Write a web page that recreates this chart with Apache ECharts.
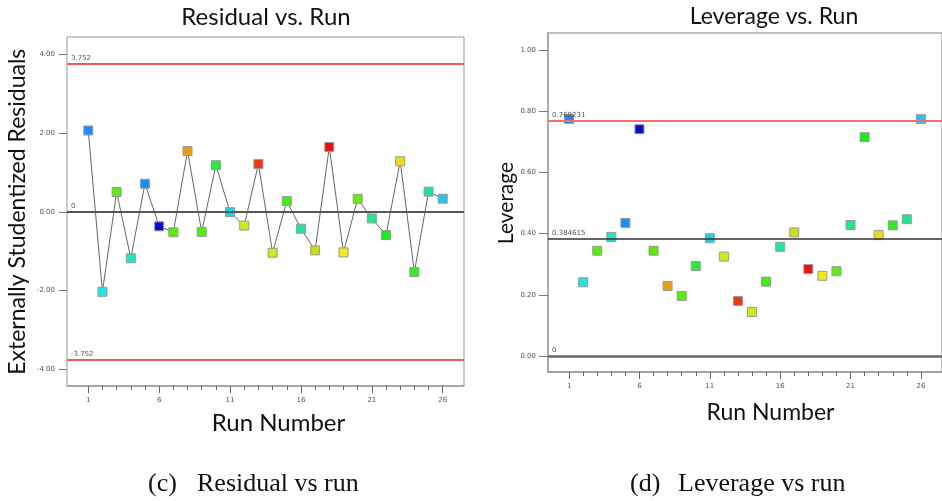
<!DOCTYPE html>
<html><head><meta charset="utf-8">
<script src="https://cdn.jsdelivr.net/npm/echarts@6/dist/echarts.min.js"></script>
<style>html,body{margin:0;padding:0;background:#fff}#c{width:942px;height:501px}</style>
</head><body><div id="c"></div>
<script>
// ---- data ----
const runs = [1,2,3,4,5,6,7,8,9,10,11,12,13,14,15,16,17,18,19,20,21,22,23,24,25,26];
const residuals = [2.06,-2.03,0.50,-1.18,0.71,-0.37,-0.52,1.54,-0.51,1.18,-0.01,-0.35,1.21,-1.04,0.27,-0.43,-0.98,1.64,-1.03,0.33,-0.17,-0.59,1.28,-1.53,0.51,0.33];
const leverage = [0.775,0.241,0.344,0.389,0.435,0.741,0.344,0.229,0.196,0.294,0.385,0.325,0.180,0.144,0.243,0.357,0.404,0.284,0.262,0.277,0.428,0.715,0.395,0.427,0.447,0.774];
const runColors = ['#1a8cff','#1ee6e6','#5aee10','#1ee6c8','#1a8cff','#0a0ad8','#55ee00','#e8a010','#55ee00','#28ec3c','#10d8ec','#ccee10','#ee3a10','#ccee10','#40ee10','#1ee6a0','#c8e010','#ee1010','#eeee10','#60ee10','#1ee690','#18ee18','#eedc10','#30ee20','#1ee690','#1ec8ee'];
const residualLimits = [3.752, 0, -3.752];
const leverageLimits = [0.769231, 0.384615, 0];
const xTickLabels = ['1','6','11','16','21','26'];
const categories = [''].concat(runs.map(String), [' ']);

// ---- helpers ----
const isRun = (i, v) => v.trim() !== '' && runs.indexOf(Number(v)) >= 0;
const isLabeled = (i, v) => xTickLabels.indexOf(v) >= 0;
const smallLabel = {fontSize: 7, color: '#555', fontFamily: 'DejaVu Sans'};
const nameStyle = {fontFamily: 'Lato', fontSize: 21, color: '#111'};

function frameAxes(gridIndex, nameGap, padLeft, nameSize) {
  return [
    {type:'category', gridIndex, data: categories, boundaryGap:true, position:'bottom',
     axisLine:{show:true, lineStyle:{color:'#999', width:1.5}},
     axisTick:{show:true, alignWithLabel:true, interval:isRun, length:4, lineStyle:{color:'#666'}},
     axisLabel:{show:true, interval:isLabeled, margin:11, ...smallLabel},
     splitLine:{show:false},
     name:'Run Number', nameLocation:'middle', nameGap,
     nameTextStyle:{...nameStyle, fontSize:nameSize, padding:[0,0,0,padLeft]}},
    {type:'category', gridIndex, data: categories, boundaryGap:true, position:'bottom',
     axisLine:{show:false},
     axisTick:{show:true, alignWithLabel:true, interval:isLabeled, length:7, lineStyle:{color:'#666'}},
     axisLabel:{show:false}, splitLine:{show:false}},
  ];
}
function dataXAxis(gridIndex) {
  return {type:'category', gridIndex, data: categories, boundaryGap:true, show:false};
}
function limitLines(values, colorFor, widthFor) {
  return {silent:true, symbol:['none','none'], precision:6,
    label:{position:'insideStartTop', distance:[4,2], ...smallLabel, formatter:'{b}'},
    data: values.map(v=>({yAxis:v, name:String(v), lineStyle:{type:'solid', color:colorFor(v), width:widthFor(v)}}))};
}

const option = {
  animation:false,
  backgroundColor:'#fff',
  grid:[
    {left:67, width:397, top:37, height:349, show:true, borderColor:'#999', borderWidth:1},
    {left:67, width:397, top:54, height:315.5},
    {left:548, width:401, top:33, height:339, show:true, borderColor:'#aaa', borderWidth:1.5},
    {left:548, width:401, top:50, height:306},
  ],
  xAxis:[
    ...frameAxes(0, 25, 26, 24),
    dataXAxis(1),
    ...frameAxes(2, 29, 51, 23),
    dataXAxis(3),
  ],
  yAxis:[
    {type:'value', gridIndex:0, min:0, max:1, show:false},
    {type:'value', gridIndex:1, min:-4, max:4, interval:2,
     axisLine:{show:false}, splitLine:{show:false},
     axisTick:{show:true, length:8, lineStyle:{color:'#777'}},
     axisLabel:{margin:12, formatter:v=>v.toFixed(2), ...smallLabel},
     name:'Externally Studentized Residuals', nameLocation:'middle', nameGap:38,
     nameTextStyle:{...nameStyle, fontSize:23}},
    {type:'value', gridIndex:2, min:0, max:1, show:true,
     axisLine:{show:true, lineStyle:{color:'#aaa', width:2}}, axisTick:{show:false}, axisLabel:{show:false}, splitLine:{show:false}},
    {type:'value', gridIndex:3, min:0, max:1, interval:0.2,
     axisLine:{show:false}, splitLine:{show:false},
     axisTick:{show:true, length:9, lineStyle:{color:'#777'}},
     axisLabel:{margin:12, formatter:v=>v.toFixed(2), ...smallLabel},
     name:'Leverage', nameLocation:'middle', nameGap:30, nameTextStyle:nameStyle},
  ],
  series:[
    {type:'line', xAxisIndex:2, yAxisIndex:1, symbol:'rect', symbolSize:9,
     lineStyle:{color:'#666', width:1}, itemStyle:{borderColor:'#999', borderWidth:1},
     data: runs.map((r,i)=>({value:[String(r), residuals[i]], itemStyle:{color:runColors[i]}})),
     markLine: limitLines(residualLimits, v => v===0 ? '#555' : '#ee5a5a', v => 2)},
    {type:'scatter', xAxisIndex:5, yAxisIndex:3, symbol:'rect', symbolSize:9,
     itemStyle:{borderColor:'#999', borderWidth:1, opacity:1},
     data: runs.map((r,i)=>({value:[String(r), leverage[i]], itemStyle:{color:runColors[i]}})),
     markLine: limitLines(leverageLimits,
       v => v===0 ? '#666' : (v>0.5 ? '#f07070' : '#333'),
       v => v===0 ? 2.5 : (v>0.5 ? 2 : 1.5))},
  ],
  graphic:[
    {type:'text', x:266, y:17, style:{text:'Residual vs. Run', font:'24px Lato', fill:'#111', textAlign:'center', textVerticalAlign:'middle'}},
    {type:'text', x:774, y:17, style:{text:'Leverage vs. Run', font:'23px Lato', fill:'#111', textAlign:'center', textVerticalAlign:'middle'}},
    {type:'text', x:148, y:484, style:{text:'(c)', font:'26px "Liberation Serif"', fill:'#111', textAlign:'left', textVerticalAlign:'middle'}},
    {type:'text', x:197, y:484, style:{text:'Residual vs run', font:'26px "Liberation Serif"', fill:'#111', textAlign:'left', textVerticalAlign:'middle'}},
    {type:'text', x:630, y:484, style:{text:'(d)', font:'26px "Liberation Serif"', fill:'#111', textAlign:'left', textVerticalAlign:'middle'}},
    {type:'text', x:678, y:484, style:{text:'Leverage vs run', font:'26px "Liberation Serif"', fill:'#111', textAlign:'left', textVerticalAlign:'middle'}},
  ]
};
const chart = echarts.init(document.getElementById('c'), null, {renderer:'canvas'});
chart.setOption(option);
</script>
</body></html>
